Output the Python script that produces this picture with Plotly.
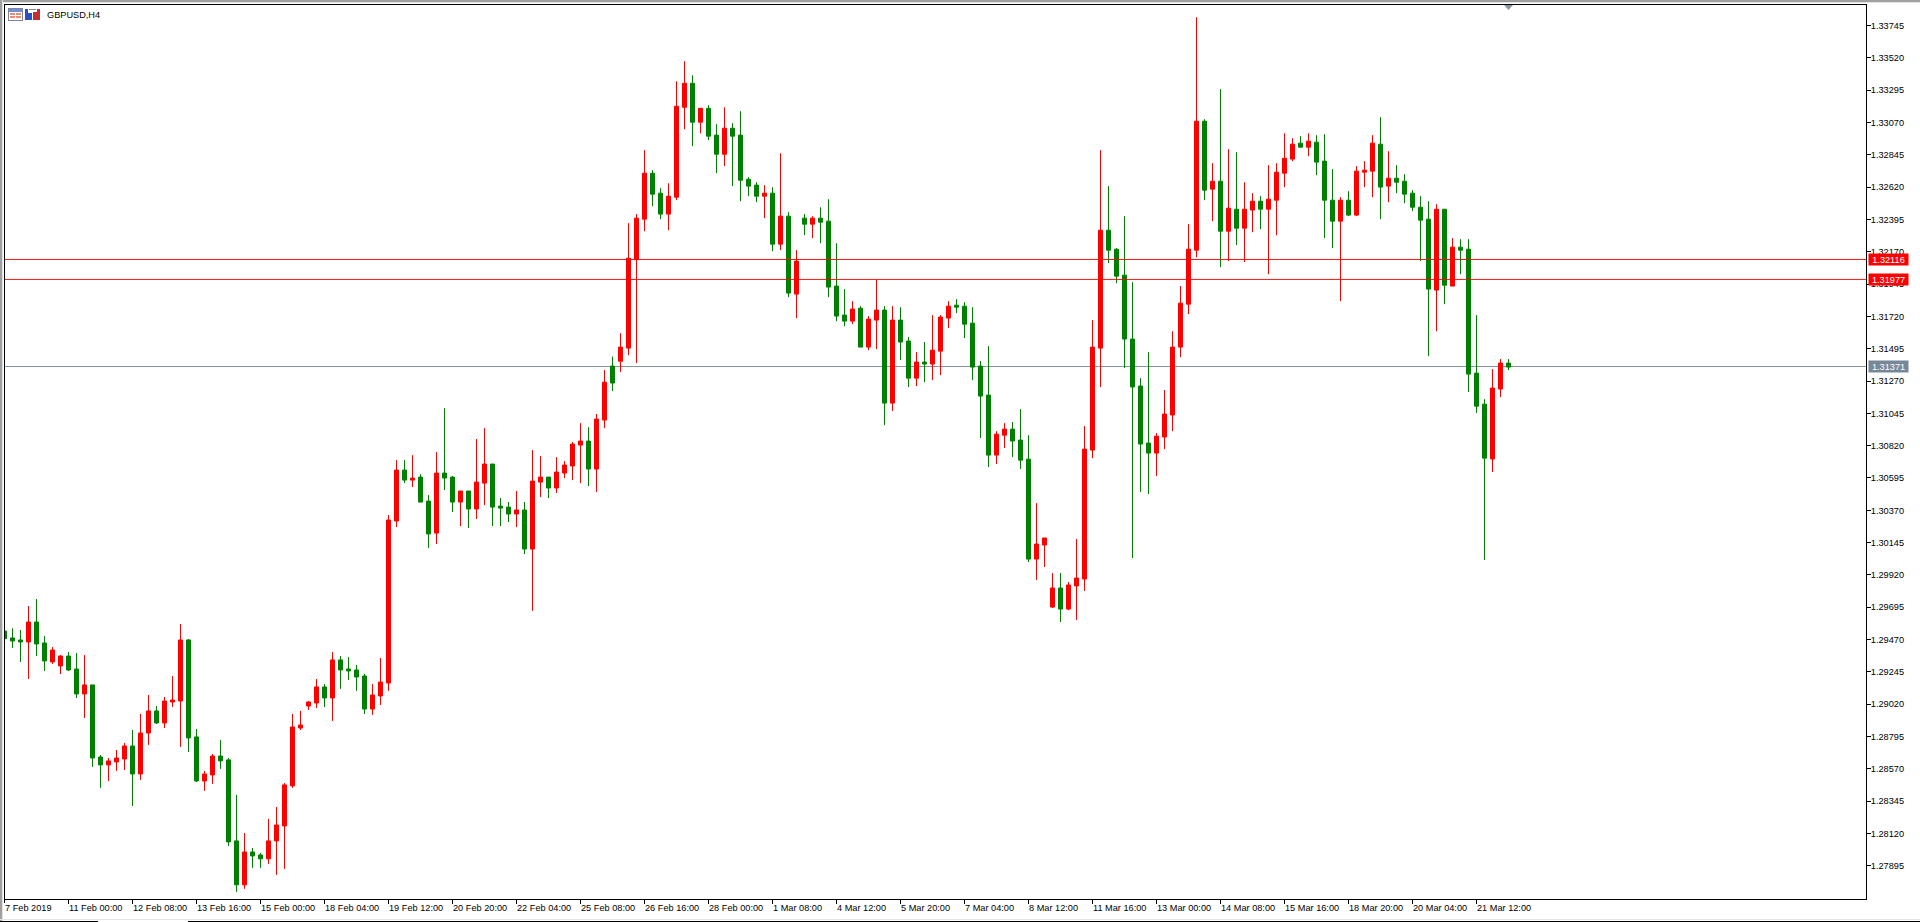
import plotly.graph_objects as go

# GBPUSD H4 candles, oldest first
opens = [1.29529,1.29481,1.29467,1.29453,1.29592,1.29446,1.29314,1.29286,1.29355,1.29265,
1.29091,1.29154,1.28652,1.28597,1.28618,1.28638,1.28729,1.28534,1.28819,1.28973,
1.28889,1.29035,1.29042,1.29467,1.28792,1.28485,1.28527,1.28659,1.28632,1.28068,
1.27762,1.27991,1.27970,1.27943,1.28068,1.28172,1.28451,1.28854,1.29007,1.29028,
1.29140,1.29063,1.29328,1.29265,1.29258,1.29216,1.28986,1.29077,1.29167,1.30295,
1.30650,1.30580,1.30601,1.30434,1.30211,1.30629,1.30601,1.30427,1.30504,1.30379,
1.30559,1.30692,1.30399,1.30392,1.30344,1.30372,1.30100,1.30566,1.30601,1.30525,
1.30629,1.30678,1.30824,1.30852,1.30657,1.30998,1.31374,1.31408,1.31499,1.32116,
1.32397,1.32717,1.32578,1.32432,1.32550,1.33176,1.33343,1.33072,1.33169,1.32982,
1.32849,1.33030,1.32982,1.32675,1.32634,1.32557,1.32578,1.32223,1.32418,1.31875,
1.32404,1.32362,1.32404,1.32383,1.31931,1.31729,1.31687,1.31777,1.31506,1.31694,
1.31764,1.31116,1.31694,1.31548,1.31290,1.31402,1.31388,1.31478,1.31708,1.31798,
1.31791,1.31673,1.31374,1.31172,1.30754,1.30893,1.30935,1.30859,1.30726,1.30030,
1.30128,1.29696,1.29829,1.29682,1.29843,1.29891,1.30789,1.31499,1.32320,1.32188,
1.32007,1.31562,1.31235,1.30838,1.30768,1.30880,1.31033,1.31506,1.31805,1.32181,
1.33079,1.32606,1.32661,1.32313,1.32466,1.32334,1.32460,1.32522,1.32466,1.32529,
1.32717,1.32815,1.32926,1.32898,1.32933,1.32801,1.32529,1.32383,1.32529,1.32425,
1.32724,1.32731,1.32919,1.32627,1.32682,1.32661,1.32578,1.32480,1.32397,1.31903,
1.32466,1.31931,1.32202,1.32188,1.31325,1.31109,1.30727,1.31214,1.31395]

highs = [1.29548,1.29548,1.29536,1.29703,1.29752,1.29495,1.29418,1.29362,1.29383,1.29376,
1.29362,1.29154,1.28666,1.28645,1.28701,1.28750,1.28840,1.28952,1.29084,1.29007,
1.29070,1.29216,1.29578,1.29474,1.28847,1.28555,1.28673,1.28771,1.28645,1.28388,
1.28123,1.28019,1.27984,1.28221,1.28304,1.28471,1.28952,1.28973,1.29042,1.29195,
1.29160,1.29383,1.29355,1.29348,1.29293,1.29230,1.29160,1.29341,1.30337,1.30720,
1.30720,1.30754,1.30622,1.30476,1.30775,1.31081,1.30608,1.30504,1.30504,1.30866,
1.30942,1.30692,1.30455,1.30427,1.30504,1.30427,1.30789,1.30747,1.30601,1.30740,
1.30713,1.30845,1.30977,1.30949,1.31040,1.31346,1.31440,1.31603,1.32369,1.32432,
1.32877,1.32738,1.32613,1.32647,1.33357,1.33497,1.33399,1.33169,1.33190,1.33058,
1.33176,1.33065,1.33149,1.32689,1.32654,1.32634,1.32620,1.32856,1.32446,1.32181,
1.32432,1.32418,1.32480,1.32536,1.32230,1.31910,1.31826,1.31791,1.31722,1.31977,
1.31791,1.31791,1.31784,1.31576,1.31471,1.31541,1.31729,1.31729,1.31826,1.31840,
1.31819,1.31784,1.31409,1.31513,1.30921,1.30977,1.30984,1.31074,1.30893,1.30420,
1.30177,1.29933,1.29933,1.29870,1.30170,1.30956,1.31694,1.32877,1.32627,1.32195,
1.32418,1.31958,1.31290,1.31471,1.30907,1.31207,1.31617,1.31931,1.32362,1.33803,
1.33093,1.32787,1.33302,1.32884,1.32863,1.32654,1.32578,1.32557,1.32773,1.32787,
1.32995,1.32961,1.32975,1.32995,1.32982,1.32988,1.32745,1.32550,1.32592,1.32766,
1.32801,1.32982,1.33107,1.32870,1.32773,1.32710,1.32599,1.32557,1.32522,1.32501,
1.32466,1.32265,1.32258,1.32258,1.31729,1.31144,1.31353,1.31423,1.31423]

lows = [1.29455,1.29411,1.29314,1.29195,1.29355,1.29251,1.29300,1.29230,1.29251,1.29063,
1.28924,1.28583,1.28437,1.28485,1.28555,1.28562,1.28311,1.28492,1.28736,1.28882,
1.28854,1.29000,1.28722,1.28687,1.28478,1.28416,1.28465,1.28569,1.28033,1.27713,
1.27734,1.27880,1.27880,1.27908,1.27831,1.27873,1.28437,1.28840,1.28980,1.28993,
1.29000,1.28903,1.29126,1.29188,1.29112,1.28952,1.28945,1.29014,1.29112,1.30253,
1.30559,1.30532,1.30427,1.30107,1.30135,1.30511,1.30358,1.30260,1.30246,1.30309,
1.30406,1.30260,1.30260,1.30288,1.30253,1.30065,1.29669,1.30462,1.30455,1.30490,
1.30594,1.30580,1.30559,1.30539,1.30497,1.30942,1.31200,1.31332,1.31450,1.31395,
1.32313,1.32487,1.32397,1.32320,1.32529,1.33023,1.32905,1.32995,1.32947,1.32717,
1.32766,1.32627,1.32522,1.32557,1.32515,1.32404,1.32174,1.32181,1.31854,1.31708,
1.32286,1.32265,1.32230,1.31854,1.31687,1.31652,1.31666,1.31506,1.31485,1.31492,
1.30963,1.31061,1.31416,1.31228,1.31235,1.31262,1.31276,1.31311,1.31638,1.31743,
1.31569,1.31276,1.30873,1.30671,1.30692,1.30803,1.30740,1.30657,1.30010,1.29884,
1.29975,1.29689,1.29592,1.29675,1.29606,1.29808,1.30733,1.31228,1.32091,1.31951,
1.31360,1.30037,1.30497,1.30483,1.30608,1.30796,1.30921,1.31436,1.31736,1.32132,
1.32529,1.32383,1.32063,1.32105,1.32216,1.32098,1.32306,1.32327,1.32014,1.32285,
1.32620,1.32801,1.32898,1.32835,1.32703,1.32265,1.32195,1.31826,1.32418,1.32418,
1.32620,1.32550,1.32397,1.32515,1.32578,1.32508,1.32453,1.32105,1.31443,1.31617,
1.31805,1.31931,1.32014,1.31193,1.31047,1.30024,1.30636,1.31158,1.31346]

closes = [1.29476,1.29460,1.29453,1.29592,1.29439,1.29321,1.29397,1.29355,1.29258,1.29091,
1.29154,1.28645,1.28597,1.28625,1.28645,1.28729,1.28534,1.28819,1.28973,1.28889,
1.29042,1.29049,1.29467,1.28785,1.28485,1.28534,1.28659,1.28625,1.28061,1.27762,
1.27991,1.27963,1.27943,1.28068,1.28179,1.28458,1.28861,1.28875,1.29035,1.29140,
1.29063,1.29328,1.29258,1.29251,1.29209,1.28986,1.29084,1.29174,1.30302,1.30650,
1.30580,1.30594,1.30427,1.30205,1.30629,1.30594,1.30427,1.30504,1.30379,1.30566,
1.30692,1.30392,1.30385,1.30344,1.30372,1.30100,1.30573,1.30601,1.30525,1.30636,
1.30685,1.30831,1.30852,1.30657,1.31005,1.31262,1.31256,1.31506,1.32125,1.32404,
1.32717,1.32571,1.32432,1.32557,1.33183,1.33343,1.33072,1.33169,1.32975,1.32849,
1.33030,1.32975,1.32668,1.32627,1.32557,1.32578,1.32223,1.32418,1.31882,1.32105,
1.32362,1.32404,1.32376,1.31924,1.31722,1.31687,1.31771,1.31506,1.31701,1.31764,
1.31116,1.31694,1.31541,1.31290,1.31402,1.31388,1.31485,1.31715,1.31791,1.31784,
1.31666,1.31367,1.31165,1.30754,1.30900,1.30935,1.30852,1.30719,1.30030,1.30135,
1.30177,1.29829,1.29682,1.29850,1.29898,1.30796,1.31506,1.32320,1.32181,1.32000,
1.31562,1.31228,1.30831,1.30768,1.30886,1.31040,1.31506,1.31812,1.32188,1.33079,
1.32599,1.32661,1.32313,1.32473,1.32334,1.32466,1.32522,1.32466,1.32536,1.32724,
1.32821,1.32919,1.32898,1.32940,1.32794,1.32529,1.32383,1.32529,1.32425,1.32731,
1.32738,1.32926,1.32620,1.32682,1.32654,1.32571,1.32480,1.32390,1.31910,1.32466,
1.31937,1.32202,1.32181,1.31318,1.31095,1.30733,1.31221,1.31395,1.31367]

candle_index = list(range(len(opens)))

# Axis labels: the time scale is labelled every 8 bars
x_tick_bars = [0,8,16,24,32,40,48,56,64,72,80,88,96,104,112,120,128,136,144,152,160,168,176,184]
x_tick_labels = ["7 Feb 2019","11 Feb 00:00","12 Feb 08:00","13 Feb 16:00","15 Feb 00:00",
                 "18 Feb 04:00","19 Feb 12:00","20 Feb 20:00","22 Feb 04:00","25 Feb 08:00",
                 "26 Feb 16:00","28 Feb 00:00","1 Mar 08:00","4 Mar 12:00","5 Mar 20:00",
                 "7 Mar 04:00","8 Mar 12:00","11 Mar 16:00","13 Mar 00:00","14 Mar 08:00",
                 "15 Mar 16:00","18 Mar 20:00","20 Mar 04:00","21 Mar 12:00"]
y_ticks = [1.33745,1.33520,1.33295,1.33070,1.32845,1.32620,1.32395,1.32170,1.31945,
           1.31720,1.31495,1.31270,1.31045,1.30820,1.30595,1.30370,1.30145,1.29920,
           1.29695,1.29470,1.29245,1.29020,1.28795,1.28570,1.28345,1.28120,1.27895]

# Horizontal levels with their price tags
level_prices = [1.32116, 1.31977]
last_price = 1.31371

WIDTH, HEIGHT = 1920, 922
LEFT, RIGHT, TOP, BOTTOM = 5, 54, 5, 23
X_RANGE = [0.0625, 232.6875]
Y_RANGE = [1.276634, 1.338880]
FONT = "Liberation Sans"
TEXT_SIZE = 9.2
UP, DOWN, GREY = "#ff0000", "#008000", "#778899"


def px_x(px):
    return (px - LEFT) / (WIDTH - LEFT - RIGHT)


def px_y(px):
    return 1 - (px - TOP) / (HEIGHT - TOP - BOTTOM)


def box(x0, y0, x1, y1, color):
    return dict(type="rect", xref="paper", yref="paper", x0=px_x(x0), x1=px_x(x1),
                y0=px_y(y0), y1=px_y(y1), fillcolor=color, line_width=0, layer="above")


fig = go.Figure(go.Candlestick(
    x=candle_index, open=opens, high=highs, low=lows, close=closes,
    whiskerwidth=0,
    increasing=dict(line=dict(color=UP, width=1), fillcolor=UP),
    decreasing=dict(line=dict(color=DOWN, width=1), fillcolor=DOWN),
    hoverinfo="skip", showlegend=False,
))

shapes = [
    # window bevels
    box(0, 0, WIDTH, 2, "#a0a0a0"), box(0, 2, WIDTH, 3, "#e3e3e3"),
    box(0, 0, 2, HEIGHT, "#a0a0a0"), box(2, 0, 3, HEIGHT, "#e3e3e3"),
    box(0, 919, WIDTH, 920, "#e3e3e3"),
    box(0, 921, 98, 922, "#000000"), box(188, 921, WIDTH, 922, "#000000"),
    # tick of the first bar, which sits on the left frame line
    box(4, 899, 5, 903, "#000000"),
    # chart title icons
    box(8, 8, 23, 21, "#7f8496"), box(9, 9, 22, 12, "#6f8fd8"), box(9, 12, 22, 20, "#ffffff"),
    box(10, 13, 15, 15, "#f08a70"), box(16, 13, 21, 15, "#f08a70"),
    box(10, 16, 15, 18, "#f08a70"), box(16, 16, 21, 18, "#f08a70"),
    box(25, 9, 32, 20, "#2a50c8"), box(33, 9, 40, 20, "#c03030"),
    box(28, 9, 33, 13, "#ffffff"), box(33, 9, 37, 12, "#ffffff"),
    box(29, 9, 36, 10, "#8a8a8a"),
    # chart shift marker on the top edge
    dict(type="path", xref="paper", yref="paper", fillcolor="#8a96a3", line_width=0,
         layer="above",
         path=f"M {px_x(1504)} {px_y(5)} L {px_x(1513)} {px_y(5)} L {px_x(1508.5)} {px_y(10)} Z"),
    dict(type="line", xref="paper", yref="y", x0=0, x1=1, y0=last_price, y1=last_price,
         line=dict(color=GREY, width=0.9), layer="below"),
]
for price in level_prices:
    shapes.append(dict(type="line", xref="paper", yref="y", x0=0, x1=1, y0=price, y1=price,
                       line=dict(color=UP, width=0.9), layer="above"))

annotations = [
    dict(text="GBPUSD,H4", xref="paper", yref="paper", x=px_x(45.5), y=px_y(14.5),
         xanchor="left", yanchor="middle", showarrow=False, borderpad=0,
         font=dict(family=FONT, size=TEXT_SIZE, color="#000000")),
]
for bar, label in zip(x_tick_bars, x_tick_labels):
    # the first bar lies just left of the visible range, so its label is pinned to the edge
    annotations.append(dict(text=label, xref="x", yref="paper", x=max(bar, X_RANGE[0]), y=0,
                            xshift=-1, yshift=-3, xanchor="left", yanchor="top",
                            showarrow=False, borderpad=0,
                            font=dict(family=FONT, size=TEXT_SIZE, color="#000000")))
for price, fill in [(level_prices[0], UP), (level_prices[1], UP), (last_price, GREY)]:
    annotations.append(dict(text=f"{price:.5f}", xref="paper", yref="y", x=px_x(1868), y=price,
                            xanchor="left", yanchor="middle", showarrow=False, width=39, height=11,
                            align="center", bgcolor=fill, borderpad=0,
                            font=dict(family=FONT, size=TEXT_SIZE, color="#ffffff")))

fig.update_layout(
    width=WIDTH, height=HEIGHT, autosize=False,
    margin=dict(l=LEFT, r=RIGHT, t=TOP, b=BOTTOM, pad=0),
    paper_bgcolor="#ffffff", plot_bgcolor="#ffffff",
    boxgap=0.5, boxgroupgap=0, hovermode=False,
    shapes=shapes, annotations=annotations,
    xaxis=dict(range=X_RANGE, tickmode="array", tickvals=x_tick_bars,
               showticklabels=False, ticks="outside", ticklen=4, tickwidth=1, tickcolor="#000000",
               showgrid=False, zeroline=False, showline=True, linecolor="#000000", linewidth=1,
               mirror=True, rangeslider=dict(visible=False)),
    yaxis=dict(range=Y_RANGE, side="right", tickmode="array", tickvals=y_ticks,
               tickformat=".5f", ticks="outside", ticklen=4, tickwidth=1, tickcolor="#000000",
               ticklabelstandoff=-2,
               tickfont=dict(family=FONT, size=TEXT_SIZE, color="#000000"),
               showgrid=False, zeroline=False, showline=True, linecolor="#000000", linewidth=1,
               mirror=True),
)

fig.write_html("out.html", config=dict(displayModeBar=False))
